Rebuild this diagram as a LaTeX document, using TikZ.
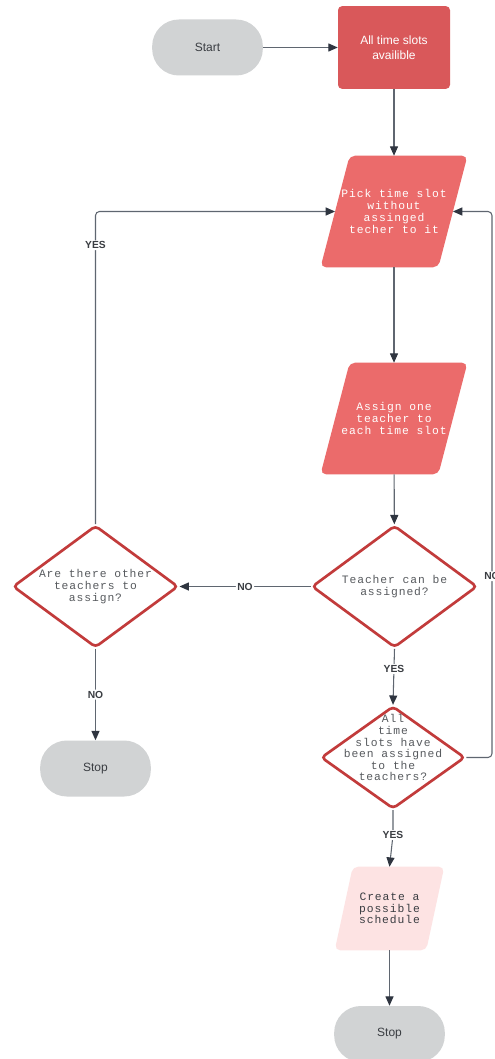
\documentclass[tikz,border=0pt]{standalone}
\usepackage{fontspec}
\setmainfont{Liberation Sans}
\newfontfamily\codefont[LetterSpace=8]{Liberation Mono}
\usetikzlibrary{shapes.geometric,arrows.meta,backgrounds}
\definecolor{termgray}{HTML}{D1D3D4}
\definecolor{boxred}{HTML}{D9585A}
\definecolor{iored}{HTML}{EB6B6B}
\definecolor{iopink}{HTML}{FDE3E3}
\definecolor{edgered}{HTML}{C23B3B}
\definecolor{linegray}{HTML}{5F6670}
\definecolor{tipgray}{HTML}{2F3540}
\definecolor{txtgray}{HTML}{3A3D42}
\tikzset{
	term/.style={fill=termgray,rounded corners=20pt,minimum width=83pt,minimum height=42pt,
		font=\fontsize{9}{11}\selectfont,text=txtgray},
	proc/.style={fill=boxred,rounded corners=3pt,minimum width=84pt,minimum height=62pt,
		align=center,font=\fontsize{9}{11}\selectfont,text=white},
	io/.style={minimum width=88pt,minimum height=83.25pt,inner sep=1pt,
		align=center,font=\fontsize{8.5}{8.8}\codefont,text=white},
	decide/.style={diamond,draw=edgered,line width=2pt,fill=white,rounded corners=3pt,
		minimum width=124pt,minimum height=91.5pt,inner sep=-12pt,
		align=center,font=\fontsize{8.5}{8.7}\codefont,text=txtgray!85},
	lbl/.style={fill=white,inner sep=1pt,font=\fontsize{7.7}{9}\selectfont\bfseries,text=txtgray},
	flow/.style={draw=linegray,line width=0.8pt,rounded corners=3pt,
		-{Triangle[length=7pt,width=6pt,color=tipgray]}}
}
\begin{document}
\begin{tikzpicture}[x=0.75pt,y=-0.75pt]
	\useasboundingbox (0,0) rectangle (495,1059);
	% shapes
	\node[term] (start) at (207.5,47.5) {Start};
	\node[proc] (slots) at (394,47.5) {All time slots\\availible};
	\node[io] (pick) at (394,211.5) {Pick time slot\\without\\assinged\\techer to it};
	\node[io] (assign) at (394,418.5) {Assign one\\teacher to\\each time slot};
	\node[decide] (canbe) at (394.5,586.5) {Teacher can be\\assigned?};
	\node[decide] (other) at (95.5,586.5) {Are there other\\teachers to\\assign?};
	\node[term] (stopa) at (95.5,768.5) {Stop};
	\node[decide,minimum width=108pt,minimum height=77pt,inner sep=-30pt] (done) at (393,757.5)
		{All\\time\\slots have\\been assigned\\to the\\teachers?\\[6pt]~};
	\node[io,text=txtgray,minimum width=68.25pt,minimum height=62.25pt] (create) at (389.5,908.5)
		{Create a\\possible\\schedule};
	\node[term] (stopb) at (389.5,1034) {Stop};
	\coordinate (loopr) at (492,757.5);
	\coordinate (kinkb) at (393,835);
	% page and slanted input boxes
	\begin{scope}[on background layer]
		\fill[white] (0,0) rectangle (495,1059);
		\foreach \n/\c/\s in {pick/iored/10.9pt,assign/iored/10.9pt,create/iopink/6.75pt}
		\fill[\c,rounded corners=4pt] ([xshift=-\s]\n.south west)--([xshift=\s]\n.north west)
			--([xshift=\s]\n.north east)--([xshift=-\s]\n.south east)--cycle;
	\end{scope}
	% connectors
	\draw[flow] (start)--(slots);
	\draw[flow] (slots)--(pick);
	\draw[flow] (pick)--(assign);
	\draw[flow] (assign)--(canbe);
	\draw[flow] (canbe)--node[lbl]{NO}(other.east);
	\draw[flow] (other)--node[lbl]{NO}(stopa);
	\draw[flow] (other.north)|-node[lbl,pos=0.446]{YES}(pick.west);
	\draw[flow] (canbe.south)--node[lbl,pos=0.36]{YES}(done.north);
	\draw[flow] (done.south)--(kinkb)node[lbl]{YES}--(create.north);
	\draw[flow] (done.east)--(loopr)|-node[lbl,pos=0.166]{NO}(pick.east);
	\draw[flow] (create)--(stopb);
\end{tikzpicture}
\end{document}
